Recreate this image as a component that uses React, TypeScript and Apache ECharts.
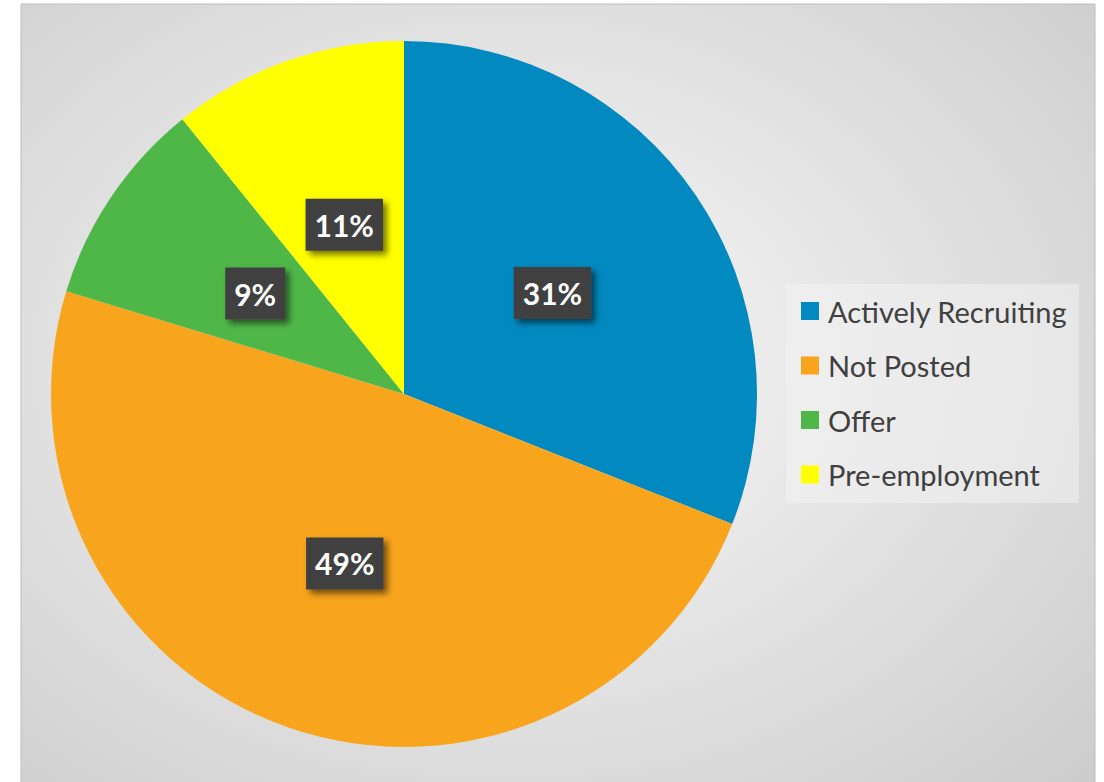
import React, { useEffect, useRef } from "react";
import * as echarts from "echarts";

const categories = ["Actively Recruiting", "Not Posted", "Offer", "Pre-employment"];
const values = [31.0, 48.7, 9.5, 10.8];
const colors = ["#0289C0", "#F8A41C", "#4FB748", "#FFFF00"];

export default function App() {
  const ref = useRef<HTMLDivElement>(null);
  useEffect(() => {
    if (!ref.current) return;
    const chart = echarts.init(ref.current, undefined, { renderer: "svg" });
    chart.setOption({
      animation: false,
      graphic: [
        {
          type: "rect",
          z: -10,
          shape: { x: 21, y: 4, width: 1074, height: 800 },
          style: {
            fill: {
              type: "radial",
              x: 0.45,
              y: 0.45,
              r: 0.9,
              colorStops: [
                { offset: 0, color: "#fafafa" },
                { offset: 1, color: "#c4c4c4" },
              ],
            },
            stroke: "#bdbdbd",
            lineWidth: 1,
          },
        },
        {
          type: "rect",
          z: -5,
          shape: { x: 786, y: 284, width: 293, height: 219 },
          style: { fill: "rgba(242,242,242,0.55)" },
        },
      ],
      legend: {
        orient: "vertical",
        left: 801,
        top: 296.5,
        padding: 0,
        itemWidth: 18,
        itemHeight: 18,
        itemGap: 25.5,
        icon: "rect",
        data: categories,
        textStyle: {
          fontFamily: "Lato",
          fontSize: 29,
          lineHeight: 29,
          color: "#404040",
          padding: [0, 0, 0, 4],
        },
      },
      series: [
        {
          type: "pie",
          center: [404, 394],
          radius: 353,
          startAngle: 90,
          clockwise: true,
          percentPrecision: 0,
          itemStyle: { borderWidth: 0 },
          label: {
            show: true,
            position: "inside",
            formatter: "{d}%",
            fontFamily: "Lato",
            fontWeight: "bold",
            fontSize: 30,
            color: "#ffffff",
            backgroundColor: "#404040",
            padding: [12, 9, 10, 9],
            shadowColor: "rgba(0,0,0,0.55)",
            shadowBlur: 6,
            shadowOffsetX: 4,
            shadowOffsetY: 4,
          },
          labelLine: { show: false },
          emphasis: { disabled: true },
          data: categories.map((name, i) => ({
            name,
            value: values[i],
            itemStyle: { color: colors[i] },
          })),
        },
      ],
    });
    return () => chart.dispose();
  }, []);
  return (
    <div
      ref={ref}
      style={{ position: "fixed", left: 0, top: 0, width: 1104, height: 782, background: "#ffffff" }}
    />
  );
}
